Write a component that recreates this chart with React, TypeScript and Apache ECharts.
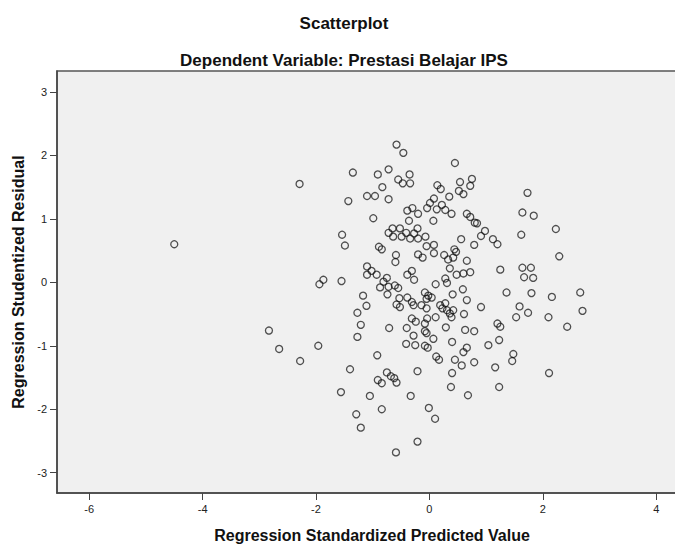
import React, { useEffect, useRef } from "react";
import * as echarts from "echarts";

const chartTitle = "Scatterplot";
const chartSubtitle = "Dependent Variable: Prestasi Belajar IPS";
const xAxisName = "Regression Standardized Predicted Value";
const yAxisName = "Regression Studentized Residual";

const xTicks = [-6, -4, -2, 0, 2, 4];
const yTicks = [-3, -2, -1, 0, 1, 2, 3];

const predictedValues = [
  -4.5, -2.83, -2.65, -2.28, -1.96, -2.29, -1.94, -1.87,
  -0.58, -0.46, -1.35, -0.91, -0.72, -0.35, -0.55, -0.47, -0.34, -0.83, -1.1, -0.96,
  -0.72, -1.43, -0.99, -0.39, -0.3, -0.2, -0.36, -0.04, -1.54, -1.49,
  -0.72, -0.65, -0.64, -0.52, -0.49, -0.41, -0.34, -0.27, -0.21, -0.2,
  -0.07, -0.89, -0.84, -0.59, -0.6, -0.2, -0.12, -0.05, -1.1, -1.02,
  -1.1, -0.93, -0.75, -0.81, -0.31, -0.39, -0.27, -1.55,
  0.45, 0.75, 0.54, 0.72, 0.14, 0.2, 0.52, 0.6, 0.35, 0.08,
  0.01, 0.13, 0.22, 0.28, 0.39, 0.07, 0.66, 0.72, 0.8, 0.84,
  0.98, 0.91, 1.12, 1.2, 0.56, 0.79, 0.08, 0.08, 0.26, 0.33,
  0.44, 0.47, 0.42, 0.66, 0.36, 0.48, 0.6, 0.72, 1.25, 0.28,
  0.31, 0.11,
  -0.87, -0.72, -0.61, -0.55, -0.74, -1.17, -1.11, -1.27, -1.21, -1.27,
  -0.53, -0.58, -0.52, -0.39, -0.31, -0.28, -0.14, -0.08, -0.05, -0.05,
  -0.71, -0.4, -0.31, -0.24, -0.08, -0.28, -0.08, -0.41, -0.25, -0.08,
  -0.03, -0.92, -1.4, -0.75, -0.68, -0.62, -0.58, -0.91, -0.84, -0.21,
  -1.56, -1.05, -0.33, -0.84, -1.29, -0.01,
  0.59, 1.36, -0.02, 0.04, 0.19, 0.28, 0.23, 0.31, 0.36, 0.39,
  0.41, 0.42, 0.66, 0.91, 0.61, 0.11, -0.04, -0.05, 0.29, 0.07,
  0.63, 0.79, 1.2, 1.25, 1.53, 1.59, 0.4, 1.04, 1.23, 0.66,
  0.6, 0.12, 0.17, 0.45, 0.57, 0.79, 1.48, 1.46, 1.16, 0.4,
  0.38, 1.23, 0.68, 0.1, -1.21, -0.59, -0.21,
  1.73, 1.64, 1.84, 2.23, 1.62, 2.29, 1.64, 1.79, 1.67, 1.83,
  1.8, 2.16, 2.66, 2.7, 2.43, 2.1, 1.74, 2.11,
];

const studentizedResiduals = [
  0.6, -0.76, -1.05, -1.24, -1.0, 1.55, -0.03, 0.04,
  2.17, 2.04, 1.73, 1.7, 1.78, 1.7, 1.62, 1.56, 1.56, 1.5, 1.36, 1.36,
  1.31, 1.28, 1.01, 1.13, 1.17, 1.08, 0.97, 1.17, 0.75, 0.58,
  0.78, 0.85, 0.72, 0.85, 0.72, 0.78, 0.69, 0.77, 0.85, 0.69,
  0.72, 0.56, 0.52, 0.43, 0.32, 0.44, 0.39, 0.57, 0.25, 0.18,
  0.12, 0.12, 0.07, 0.01, 0.18, 0.12, 0.04, 0.02,
  1.88, 1.63, 1.58, 1.52, 1.53, 1.47, 1.44, 1.39, 1.35, 1.32,
  1.25, 1.15, 1.22, 1.14, 1.08, 0.97, 1.08, 1.03, 0.94, 0.93,
  0.81, 0.73, 0.68, 0.6, 0.68, 0.59, 0.59, 0.46, 0.43, 0.36,
  0.52, 0.48, 0.39, 0.34, 0.22, 0.12, 0.14, 0.16, 0.2, 0.06,
  -0.01, -0.03,
  -0.08, -0.07, -0.05, -0.09, -0.19, -0.21, -0.37, -0.48, -0.67, -0.86,
  -0.25, -0.35, -0.39, -0.24, -0.31, -0.36, -0.36, -0.16, -0.26, -0.41,
  -0.72, -0.72, -0.57, -0.62, -0.65, -0.84, -0.77, -0.97, -0.99, -1.0,
  -1.03, -1.15, -1.37, -1.42, -1.48, -1.51, -1.58, -1.54, -1.59, -1.4,
  -1.73, -1.79, -1.79, -2.0, -2.08, -1.98,
  -0.11, -0.16, -0.21, -0.24, -0.36, -0.33, -0.41, -0.44, -0.49, -0.55,
  -0.19, -0.44, -0.28, -0.39, -0.5, -0.55, -0.57, -0.8, -0.71, -0.89,
  -0.75, -0.77, -0.65, -0.7, -0.55, -0.38, -0.94, -0.99, -0.91, -1.03,
  -1.1, -1.17, -1.22, -1.22, -1.31, -1.26, -1.13, -1.24, -1.34, -1.43,
  -1.65, -1.65, -1.78, -2.15, -2.29, -2.68, -2.51,
  1.41, 1.1, 1.05, 0.84, 0.75, 0.41, 0.23, 0.23, 0.08, 0.07,
  -0.17, -0.23, -0.16, -0.45, -0.7, -0.55, -0.48, -1.43,
];

const FONT = "'Liberation Sans', Arial, sans-serif";

export default function App() {
  const ref = useRef<HTMLDivElement>(null);

  useEffect(() => {
    document.body.style.margin = "0";
    if (!ref.current) return;
    const chart = echarts.init(ref.current, null, { renderer: "svg" });
    const points = predictedValues.map((x, i) => [x, studentizedResiduals[i]]);

    chart.setOption({
      animation: false,
      backgroundColor: "#ffffff",
      title: [
        {
          text: chartTitle,
          left: 344,
          top: 15,
          textAlign: "center",
          padding: 0,
          textStyle: { fontFamily: FONT, fontSize: 17, fontWeight: "bold", color: "#111" },
        },
        {
          text: chartSubtitle,
          left: 344,
          top: 52,
          textAlign: "center",
          padding: 0,
          textStyle: { fontFamily: FONT, fontSize: 17, fontWeight: "bold", color: "#111" },
        },
      ],
      grid: {
        left: 57,
        top: 71,
        width: 630,
        height: 422,
        outerBoundsMode: "none",
        containLabel: false,
        show: true,
        backgroundColor: "#f0f0f0",
        borderColor: "#555",
        borderWidth: 1.5,
      },
      xAxis: {
        type: "value",
        min: -6.568,
        max: 4.543,
        name: xAxisName,
        nameLocation: "middle",
        nameGap: 34,
        nameTextStyle: { fontFamily: FONT, fontSize: 16, fontWeight: "bold", color: "#111" },
        axisLine: { show: true, onZero: false, lineStyle: { color: "#444", width: 1.5 } },
        axisTick: { show: true, inside: false, length: 7, customValues: xTicks, lineStyle: { color: "#444", width: 1 } },
        axisLabel: { customValues: xTicks, margin: 10, fontFamily: FONT, fontSize: 11, color: "#222" },
        splitLine: { show: false },
      },
      yAxis: {
        type: "value",
        min: -3.32,
        max: 3.33,
        name: yAxisName,
        nameLocation: "middle",
        nameGap: 30,
        nameRotate: 90,
        nameTextStyle: { fontFamily: FONT, fontSize: 16, fontWeight: "bold", color: "#111" },
        axisLine: { show: true, onZero: false, lineStyle: { color: "#444", width: 1.5 } },
        axisTick: { show: true, inside: false, length: 7, customValues: yTicks, lineStyle: { color: "#444", width: 1 } },
        axisLabel: { customValues: yTicks, margin: 10, fontFamily: FONT, fontSize: 11, color: "#222" },
        splitLine: { show: false },
      },
      series: [
        {
          type: "scatter",
          data: points,
          symbol: "circle",
          symbolSize: 7,
          itemStyle: {
            color: "rgba(0,0,0,0)",
            borderColor: "rgba(15,15,15,0.9)",
            borderWidth: 1.3,
          },
          silent: true,
        },
      ],
    });

    return () => chart.dispose();
  }, []);

  return <div ref={ref} style={{ width: 675, height: 545 }} />;
}
